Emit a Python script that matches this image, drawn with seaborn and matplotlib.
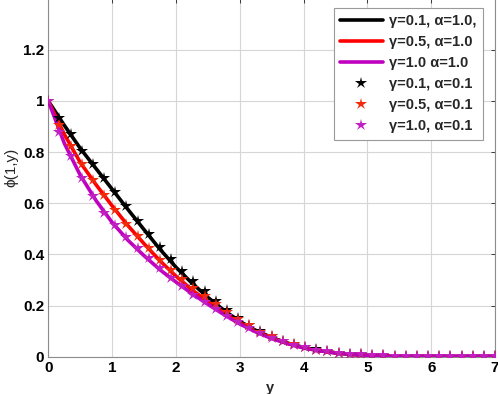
import numpy as np
import pandas as pd
import matplotlib
matplotlib.use("Agg")
import matplotlib.pyplot as plt
import seaborn as sns

# curvas continuas (alpha = 1.0), passo 0.25
y_linha = [0.0, 0.25, 0.5, 0.75, 1.0, 1.25, 1.5, 1.75, 2.0, 2.25, 2.5, 2.75, 3.0, 3.25, 3.5,
           3.75, 4.0, 4.25, 4.5, 4.75, 5.0, 5.25, 5.5, 5.75, 6.0, 6.25, 6.5, 6.75, 7.0]
phi_g01_a10 = [1.0, 0.905, 0.815, 0.735, 0.655, 0.575, 0.497, 0.420, 0.350, 0.288, 0.232, 0.182,
               0.138, 0.103, 0.075, 0.053, 0.036, 0.024, 0.015, 0.009, 0.005, 0.003, 0.002,
               0.001, 0.001, 0.0, 0.0, 0.0, 0.0]
phi_g05_a10 = [1.0, 0.870, 0.760, 0.672, 0.590, 0.512, 0.442, 0.375, 0.315, 0.262, 0.215, 0.172,
               0.133, 0.100, 0.073, 0.052, 0.035, 0.024, 0.015, 0.009, 0.005, 0.003, 0.002,
               0.001, 0.001, 0.0, 0.0, 0.0, 0.0]
phi_g10_a10 = [1.0, 0.835, 0.710, 0.610, 0.525, 0.455, 0.395, 0.340, 0.292, 0.247, 0.205, 0.165,
               0.128, 0.097, 0.071, 0.051, 0.034, 0.023, 0.015, 0.009, 0.005, 0.003, 0.002,
               0.001, 0.001, 0.0, 0.0, 0.0, 0.0]

# pontos (alpha = 0.1), passo 0.175
y_pontos = [0.0, 0.175, 0.35, 0.525, 0.7, 0.875, 1.05, 1.225, 1.4, 1.575, 1.75, 1.925, 2.1,
            2.275, 2.45, 2.625, 2.8, 2.975, 3.15, 3.325, 3.5, 3.675, 3.85, 4.025, 4.2, 4.375,
            4.55, 4.725, 4.9, 5.075, 5.25, 5.425, 5.6, 5.775, 5.95, 6.125, 6.3, 6.475, 6.65,
            6.825, 7.0]
phi_g01_a01 = [1.0, 0.932, 0.870, 0.806, 0.752, 0.697, 0.643, 0.588, 0.530, 0.480, 0.430, 0.382,
               0.337, 0.295, 0.255, 0.217, 0.182, 0.152, 0.124, 0.099, 0.080, 0.063, 0.049,
               0.038, 0.029, 0.022, 0.016, 0.012, 0.009, 0.007, 0.005, 0.004, 0.003, 0.003,
               0.002, 0.002, 0.002, 0.001, 0.001, 0.001, 0.001]
phi_g05_a01 = [1.0, 0.905, 0.825, 0.752, 0.690, 0.632, 0.575, 0.520, 0.472, 0.425, 0.380, 0.340,
               0.303, 0.268, 0.236, 0.205, 0.175, 0.148, 0.122, 0.098, 0.079, 0.062, 0.048,
               0.037, 0.028, 0.021, 0.016, 0.012, 0.009, 0.007, 0.005, 0.004, 0.003, 0.003,
               0.002, 0.002, 0.002, 0.001, 0.001, 0.001, 0.001]
phi_g10_a01 = [1.0, 0.877, 0.785, 0.700, 0.628, 0.562, 0.515, 0.470, 0.427, 0.385, 0.345, 0.308,
               0.275, 0.243, 0.213, 0.185, 0.158, 0.135, 0.112, 0.092, 0.075, 0.060, 0.047,
               0.036, 0.028, 0.021, 0.016, 0.012, 0.009, 0.007, 0.005, 0.004, 0.003, 0.003,
               0.002, 0.002, 0.002, 0.001, 0.001, 0.001, 0.001]

ROTULOS = ["γ=0.1, α=1.0,", "γ=0.5, α=1.0", "γ=1.0 α=1.0",
           "γ=0.1, α=0.1", "γ=0.5, α=0.1", "γ=1.0, α=0.1"]
CORES_LINHA = ["#000000", "#ff0000", "#bf00bf"]
CORES_PONTO = ["#000000", "#f22a0c", "#c21fc2"]

sns.set_style("whitegrid")
plt.rcParams["font.family"] = ["Liberation Sans", "DejaVu Sans"]

fig = plt.figure(figsize=(4.98, 3.94), dpi=100)
ax = fig.add_axes([0.097, 0.0947, 0.897, 0.9086])

linhas = [phi_g01_a10, phi_g05_a10, phi_g10_a10]
pontos = [phi_g01_a01, phi_g05_a01, phi_g10_a01]

for serie, cor, rot in zip(linhas, CORES_LINHA, ROTULOS[:3]):
    sns.lineplot(x=y_linha, y=serie, color=cor, linewidth=2.6, label=rot, ax=ax, zorder=3)

for serie, cor, rot in zip(pontos, CORES_PONTO, ROTULOS[3:]):
    ax.plot(y_pontos, serie, linestyle="none", marker="*", markersize=9,
            color=cor, markeredgewidth=0, label=rot, zorder=4)

ax.set_xlim(0, 7)
ax.set_ylim(0, 1.4)
ax.set_xticks(range(0, 8))
ax.set_yticks([0, 0.2, 0.4, 0.6, 0.8, 1.0, 1.2])
ax.set_yticklabels(["0", "0.2", "0.4", "0.6", "0.8", "1", "1.2"])
ax.tick_params(axis="both", direction="in", length=3, width=0.6, colors="#222222",
               labelsize=11, top=True, right=True, pad=3)
for lbl in ax.get_xticklabels() + ax.get_yticklabels():
    lbl.set_fontweight("bold")
    lbl.set_color("black")
ax.grid(True, color="#d6d6d6", linewidth=0.8)
for sp in ax.spines.values():
    sp.set_color("#8c8c8c")
    sp.set_linewidth(0.8)

ax.set_xlabel("y", fontsize=10.5, fontweight="bold")
ax.xaxis.set_label_coords(0.496, -0.068)
ax.set_ylabel("ϕ(1,y)", fontsize=11)
ax.yaxis.set_label_coords(-0.068, 0.53)

leg = ax.legend(loc="upper right", bbox_to_anchor=(0.99, 0.995), frameon=True, fancybox=False,
                framealpha=1, edgecolor="#9a9a9a", handlelength=2.9, labelspacing=0.48,
                borderpad=0.45, handletextpad=0.45,
                prop={"family": ["Liberation Sans", "DejaVu Sans"], "weight": "bold", "size": 10.5})
leg.get_frame().set_linewidth(0.8)

fig.savefig("out.png", dpi=100)
